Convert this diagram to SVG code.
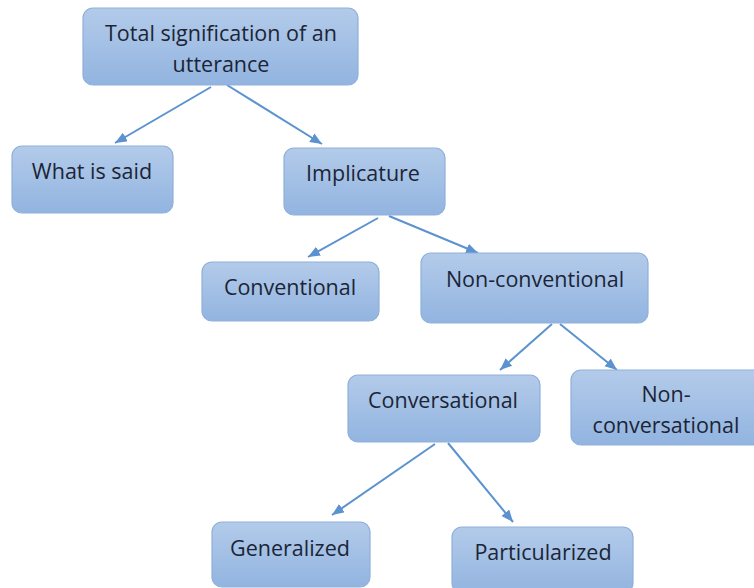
<svg xmlns="http://www.w3.org/2000/svg" width="754" height="588" viewBox="0 0 754 588">
  <defs>
    <linearGradient id="boxFill" x1="0" y1="0" x2="0" y2="1">
      <stop offset="0" stop-color="#b3cbea"/>
      <stop offset="1" stop-color="#92b4e0"/>
    </linearGradient>
    <marker id="arrow" markerUnits="userSpaceOnUse" markerWidth="14" markerHeight="12" refX="12" refY="5" orient="auto">
      <path d="M0,0 L12,5 L0,10 Z" fill="#5b92cf"/>
    </marker>
  </defs>
  <style>
    .box { fill: url(#boxFill); stroke: #8fb0d9; stroke-width: 1.2; }
    .lbl { font-family: "Open Sans", Lato, "Liberation Sans", sans-serif; font-size: 21.5px; font-weight: 500; fill: #1b2536; text-anchor: middle; }
    .conn { stroke: #5b92cf; stroke-width: 2; fill: none; marker-end: url(#arrow); }
  </style>
  <rect width="754" height="588" fill="#ffffff"/>
  <g id="connectors">
    <line class="conn" x1="211" y1="87" x2="115" y2="143"/>
    <line class="conn" x1="227" y1="85" x2="322" y2="144"/>
    <line class="conn" x1="378" y1="218" x2="308" y2="257"/>
    <line class="conn" x1="389" y1="216" x2="478" y2="253"/>
    <line class="conn" x1="552" y1="324" x2="500" y2="370"/>
    <line class="conn" x1="560" y1="324" x2="617" y2="370"/>
    <line class="conn" x1="435" y1="444" x2="332" y2="515"/>
    <line class="conn" x1="448" y1="443" x2="513" y2="522"/>
  </g>
  <g id="total">
    <rect class="box" x="83" y="8" width="275" height="77" rx="10"/>
    <text class="lbl" x="221" y="41">Total signification of an</text>
    <text class="lbl" x="221" y="72">utterance</text>
  </g>
  <g id="what-is-said">
    <rect class="box" x="12" y="146" width="161" height="67" rx="10"/>
    <text class="lbl" x="92" y="179">What is said</text>
  </g>
  <g id="implicature">
    <rect class="box" x="284" y="148" width="161" height="67" rx="10"/>
    <text class="lbl" x="363" y="181">Implicature</text>
  </g>
  <g id="conventional">
    <rect class="box" x="202" y="262" width="177" height="59" rx="10"/>
    <text class="lbl" x="290" y="295">Conventional</text>
  </g>
  <g id="non-conventional">
    <rect class="box" x="421" y="253" width="227" height="70" rx="10"/>
    <text class="lbl" x="535" y="287">Non-conventional</text>
  </g>
  <g id="conversational">
    <rect class="box" x="348" y="375" width="192" height="67" rx="10"/>
    <text class="lbl" x="443" y="408">Conversational</text>
  </g>
  <g id="non-conversational">
    <rect class="box" x="571" y="370" width="192" height="75" rx="10"/>
    <text class="lbl" x="666" y="402">Non-</text>
    <text class="lbl" x="666" y="433">conversational</text>
  </g>
  <g id="generalized">
    <rect class="box" x="212" y="522" width="158" height="65" rx="10"/>
    <text class="lbl" x="290" y="556">Generalized</text>
  </g>
  <g id="particularized">
    <rect class="box" x="452" y="527" width="181" height="66" rx="10"/>
    <text class="lbl" x="543" y="560">Particularized</text>
  </g>
</svg>
